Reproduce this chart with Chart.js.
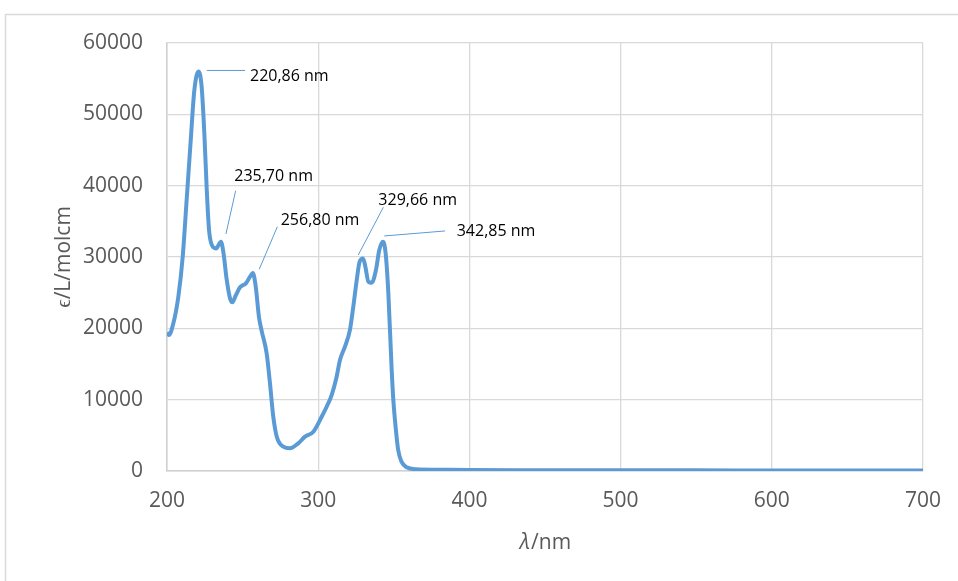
<!DOCTYPE html>
<html>
<head>
<meta charset="utf-8">
<script src="https://cdn.jsdelivr.net/npm/chart.js@4.4.1/dist/chart.umd.min.js"></script>
<style>
  html, body { margin: 0; padding: 0; background: #fff; overflow: hidden; }
  #wrap { position: relative; width: 958px; height: 581px; }
</style>
</head>
<body>
<div id="wrap"><canvas id="spectrum"></canvas></div>
<script>
// Absorption spectrum, values
const wavelength = [200, 201.3, 204.2, 207.5, 210.4, 213.0, 215.7, 218.1, 220.86, 222.9,
  224.7, 226.3, 227.8, 229.6, 232.4, 235.7, 237.4, 239.5, 241.7, 243.2,
  245.6, 248.3, 252.2, 254.9, 256.8, 258.7, 260.8, 262.6, 265.9, 268.1,
  270.3, 272.6, 276.9, 281.3, 286.8, 291.3, 296.8, 302.3, 305.6,
  308.9, 312.2, 314.4, 317.7, 321.0, 323.2, 325.5, 327.4, 329.66, 331.2,
  333.2, 335.4, 338.2, 340.4, 342.85, 344.6, 346.4, 348.6, 349.7, 351.4,
  352.9, 355.1, 358.5, 365, 378, 400, 450, 500, 550, 600, 650, 700];
const epsilon = [19400, 19070, 20700, 24440, 30050, 38000, 46400, 53400, 56000, 53900,
  47300, 39400, 33800, 31700, 31200, 32150, 30500, 26800, 24200, 23650,
  24670, 25750, 26310, 27240, 27750, 25840, 21630, 19650, 16500, 12300,
  7600, 4810, 3410, 3180, 3880, 4810, 5510, 7610, 9010,
  10650, 13220, 15560, 17430, 19770, 23030, 26780, 29340, 29800, 28640,
  26540, 26400, 28180, 30980, 32150, 30520, 24910, 14160, 9950, 5750,
  2940, 1310, 520, 240, 180, 130, 110, 100, 90, 80, 70, 60];

// peak labels: leader line from (fromX, fromY) to (toX, toY), text at (textX, textY)
const peakLabels = ['220,86 nm', '235,70 nm', '256,80 nm', '329,66 nm', '342,85 nm'];
const fromX = [226.3, 239.0, 261.0, 326.5, 343.7];
const fromY = [56150, 33230, 28280, 30280, 32950];
const toX = [251.6, 245.4, 273.0, 343.1, 383.9];
const toY = [56150, 39300, 34250, 36970, 33650];
const textX = [254.9, 244.5, 275.2, 339.8, 391.6];
const textY = [55280, 41360, 35090, 37900, 33550];

const points = wavelength.map((w, i) => ({ x: w, y: epsilon[i] }));

const gray = '#595959';
const gridGray = '#d9d9d9';

// outer chart frame + peak labels + x axis title
const extras = {
  id: 'extras',
  beforeDraw(chart) {
    const ctx = chart.ctx;
    ctx.save();
    ctx.strokeStyle = gridGray;
    ctx.lineWidth = 1.5;
    ctx.beginPath();
    ctx.moveTo(5.5, chart.height + 5);
    ctx.lineTo(5.5, 14.5);
    ctx.lineTo(chart.width + 5, 14.5);
    ctx.stroke();
    ctx.restore();
  },
  afterDatasetsDraw(chart) {
    const ctx = chart.ctx;
    const xs = chart.scales.x, ys = chart.scales.y;
    ctx.save();
    ctx.strokeStyle = '#5b9bd5';
    ctx.lineWidth = 1;
    ctx.fillStyle = '#000';
    ctx.font = '16px "Open Sans"';
    ctx.textBaseline = 'middle';
    ctx.textAlign = 'left';
    peakLabels.forEach((t, i) => {
      ctx.beginPath();
      ctx.moveTo(xs.getPixelForValue(fromX[i]), ys.getPixelForValue(fromY[i]));
      ctx.lineTo(xs.getPixelForValue(toX[i]), ys.getPixelForValue(toY[i]));
      ctx.stroke();
      ctx.fillText(t, xs.getPixelForValue(textX[i]), ys.getPixelForValue(textY[i]));
    });

    // x axis title: italic lambda then /nm
    ctx.fillStyle = gray;
    ctx.font = 'italic 21px "Open Sans"';
    const a = 'λ';
    const wa = ctx.measureText(a).width;
    ctx.font = '21px "Open Sans"';
    const b = '/nm';
    const wb = ctx.measureText(b).width;
    const cx = (chart.chartArea.left + chart.chartArea.right) / 2;
    const x0 = cx - (wa + wb) / 2;
    const y0 = 543;
    ctx.font = 'italic 21px "Open Sans"';
    ctx.fillText(a, x0, y0);
    ctx.font = '21px "Open Sans"';
    ctx.fillText(b, x0 + wa + 1, y0);
    ctx.restore();
  }
};

new Chart(document.getElementById('spectrum'), {
  type: 'scatter',
  data: {
    datasets: [{
      data: points,
      showLine: true,
      borderColor: '#5b9bd5',
      borderWidth: 4,
      pointRadius: 0,
      cubicInterpolationMode: 'monotone',
      fill: false
    }]
  },
  options: {
    responsive: true,
    maintainAspectRatio: false,
    animation: false,
    layout: { padding: { top: 43, right: 35, left: 0, bottom: 0 } },
    plugins: {
      legend: { display: false },
      tooltip: { enabled: false }
    },
    scales: {
      x: {
        type: 'linear',
        min: 200,
        max: 700,
        afterFit: s => { s.height = 110; },
        ticks: {
          stepSize: 100,
          padding: 17,
          color: gray,
          font: { size: 21, family: 'Open Sans' },
          callback: v => String(v)
        },
        grid: { color: gridGray, lineWidth: 1.3, drawTicks: false },
        border: { color: '#d0d0d0', width: 1.5 }
      },
      y: {
        min: 0,
        max: 60000,
        afterFit: s => { s.width = 167; },
        ticks: {
          stepSize: 10000,
          padding: 24,
          color: gray,
          font: { size: 21, family: 'Open Sans' },
          callback: v => String(v)
        },
        grid: { color: gridGray, lineWidth: 1.3, drawTicks: false },
        border: { color: '#d0d0d0', width: 1.5 },
        title: {
          display: true,
          text: 'ϵ/L/molcm',
          color: gray,
          padding: { top: 51, bottom: 0 },
          font: { size: 21, family: 'Open Sans' }
        }
      }
    }
  },
  plugins: [extras]
});
</script>
</body>
</html>
